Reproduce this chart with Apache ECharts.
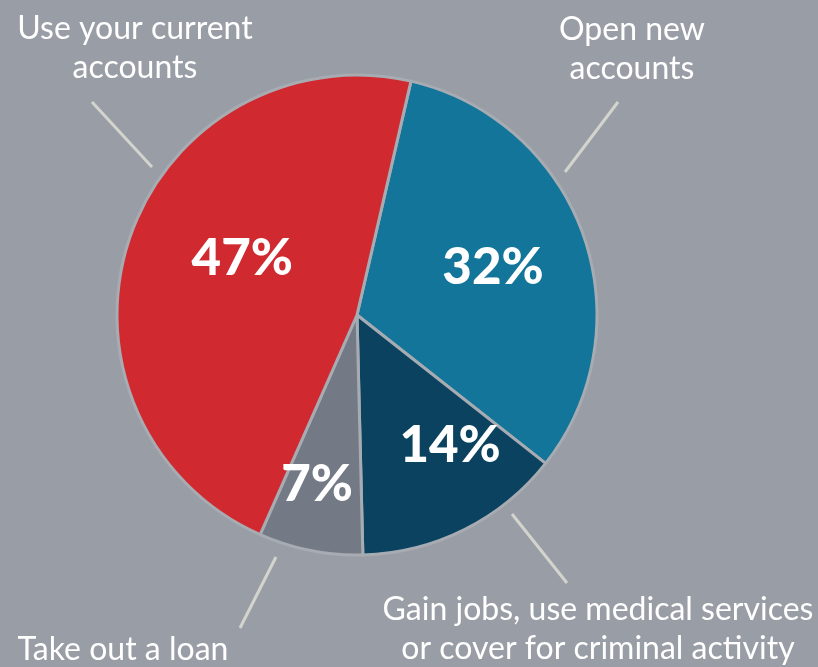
<!DOCTYPE html>
<html><head><meta charset="utf-8">
<style>html,body{margin:0;padding:0;background:#999da5;}#c{width:818px;height:667px;}</style>
<script src="https://cdn.jsdelivr.net/npm/echarts@6/dist/echarts.min.js"></script>
</head><body><div id="c"></div>
<script>
const categories = ['Open new\naccounts', 'Gain jobs, use medical services\nor cover for criminal activity', 'Take out a loan', 'Use your current\naccounts'];
const values = [32, 14, 7, 47];
const colors = ['#127599', '#0a4260', '#737a85', '#d02a30'];

// label placement (layout only)
const innerOffsets = [[20, -7], [38, 21], [-16, 49], [2, -18]];
const outerLabelPos = [[632, 49], [598, 629], [123, 650], [135, 48]];
const outerLines = [[[565, 172], [618, 102]], [[512, 514], [567, 583]], [[276, 557], [240, 628]], [[152, 167], [92, 102]]];

const chart = echarts.init(document.getElementById('c'));
const data = categories.map((n, i) => ({ name: n, value: values[i], itemStyle: { color: colors[i] } }));
chart.setOption({
  backgroundColor: '#999da5',
  animation: false,
  series: [
    {
      type: 'pie', center: [357, 315], radius: 240, startAngle: 77, clockwise: true,
      silent: true,
      itemStyle: { borderColor: '#a7abb2', borderWidth: 3 },
      label: { position: 'inside', formatter: '{c}%', color: '#ffffff', fontFamily: 'Lato', fontWeight: 900, fontSize: 51 },
      labelLine: { show: false },
      labelLayout: function (p) { return { dx: innerOffsets[p.dataIndex][0], dy: innerOffsets[p.dataIndex][1] }; },
      data: data
    },
    {
      type: 'pie', center: [357, 315], radius: 240, startAngle: 77, clockwise: true,
      silent: true, z: 3,
      itemStyle: { color: 'rgba(0,0,0,0)', borderWidth: 0 },
      label: { position: 'outside', formatter: '{b}', color: '#ffffff', fontFamily: 'Lato', fontWeight: 400, fontSize: 32, lineHeight: 39, align: 'center', width: 480, overflow: 'none' },
      labelLine: { show: true, lineStyle: { color: '#d3d4cd', width: 3 } },
      labelLayout: function (p) {
        const i = p.dataIndex;
        const l = outerLines[i];
        return { x: outerLabelPos[i][0], y: outerLabelPos[i][1], align: 'center', verticalAlign: 'middle', labelLinePoints: [l[0], l[1], l[1]] };
      },
      data: categories.map((n, i) => ({ name: n, value: values[i] }))
    }
  ]
});
</script></body></html>
